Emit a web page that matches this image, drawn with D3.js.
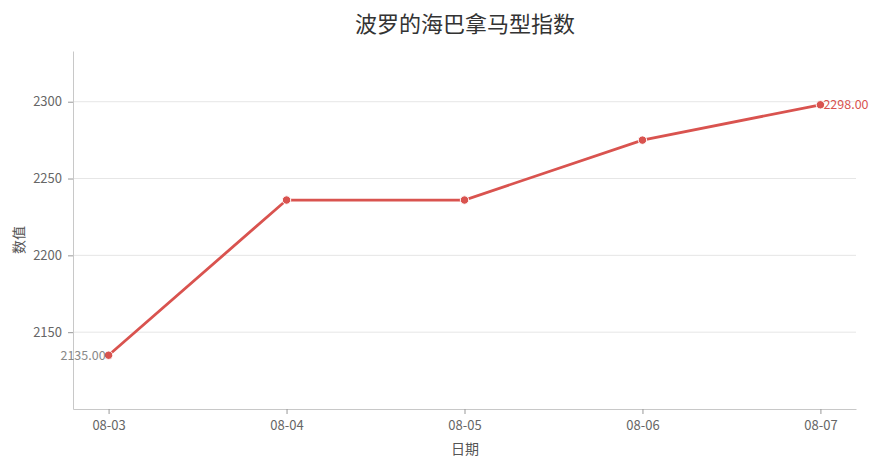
<!DOCTYPE html>
<html>
<head>
<meta charset="utf-8">
<script src="https://cdn.jsdelivr.net/npm/d3@7"></script>
<style>
  body { margin: 0; background: #fff; }
  svg { font-family: "Noto Sans CJK SC", "Noto Sans", sans-serif; }
</style>
</head>
<body>
<svg id="chart" width="884" height="468"></svg>
<script>
const dates = ["08-03", "08-04", "08-05", "08-06", "08-07"];
const values = [2135, 2236, 2236, 2275, 2298];
const yTicks = [2150, 2200, 2250, 2300];

const color = "#d9534f";
const margin = { top: 51, right: 28, bottom: 59, left: 73 };
const width = 884, height = 468;

const svg = d3.select("#chart");

const x = d3.scalePoint()
  .domain(dates)
  .range([margin.left, width - margin.right])
  .padding(0.2);

const y = d3.scaleLinear()
  .domain([2100, 2333])
  .range([height - margin.bottom, margin.top]);

// gridlines
svg.append("g")
  .selectAll("line")
  .data(yTicks)
  .enter()
  .append("line")
  .attr("x1", margin.left)
  .attr("x2", width - margin.right)
  .attr("y1", d => y(d))
  .attr("y2", d => y(d))
  .attr("stroke", "#e6e6e6")
  .attr("stroke-width", 1);

// axes
const xAxis = svg.append("g")
  .attr("transform", `translate(0, ${height - margin.bottom})`)
  .call(d3.axisBottom(x).tickSize(5).tickSizeOuter(0).tickPadding(7));

const yAxis = svg.append("g")
  .attr("transform", `translate(${margin.left}, 0)`)
  .call(d3.axisLeft(y).tickValues(yTicks).tickFormat(d3.format("d"))
    .tickSize(5).tickSizeOuter(0).tickPadding(6));

[xAxis, yAxis].forEach(a => {
  a.select(".domain").attr("stroke", "#c8c8c8");
  a.selectAll(".tick line").attr("stroke", "#999");
  a.selectAll(".tick text")
    .attr("fill", "#666")
    .attr("font-size", "13px")
    .attr("font-family", '"Noto Sans CJK SC", sans-serif');
});

// line
const line = d3.line()
  .x((d, i) => x(dates[i]))
  .y(d => y(d));

svg.append("path")
  .datum(values)
  .attr("d", line)
  .attr("fill", "none")
  .attr("stroke", color)
  .attr("stroke-width", 2.8);

svg.append("g")
  .selectAll("circle")
  .data(values)
  .enter()
  .append("circle")
  .attr("cx", (d, i) => x(dates[i]))
  .attr("cy", d => y(d))
  .attr("r", 4.2)
  .attr("fill", color)
  .attr("stroke", "#fff")
  .attr("stroke-width", 1);

// start / end labels
const last = values.length - 1;
svg.append("text")
  .attr("x", x(dates[0]) - 3)
  .attr("y", y(values[0]))
  .attr("dy", "0.35em")
  .attr("text-anchor", "end")
  .attr("fill", "#888")
  .attr("font-size", "12.5px")
  .text(values[0].toFixed(2));

svg.append("text")
  .attr("x", x(dates[last]) + 3)
  .attr("y", y(values[last]))
  .attr("dy", "0.35em")
  .attr("text-anchor", "start")
  .attr("fill", color)
  .attr("font-size", "12.5px")
  .text(values[last].toFixed(2));

// titles
svg.append("text")
  .attr("x", 465)
  .attr("y", 32)
  .attr("text-anchor", "middle")
  .attr("fill", "#333")
  .attr("font-size", "22px")
  .text("波罗的海巴拿马型指数");

svg.append("text")
  .attr("x", 465)
  .attr("y", 454)
  .attr("text-anchor", "middle")
  .attr("fill", "#555")
  .attr("font-size", "14px")
  .text("日期");

svg.append("text")
  .attr("transform", `translate(24, 240) rotate(-90)`)
  .attr("text-anchor", "middle")
  .attr("fill", "#555")
  .attr("font-size", "14px")
  .text("数值");
</script>
</body>
</html>
